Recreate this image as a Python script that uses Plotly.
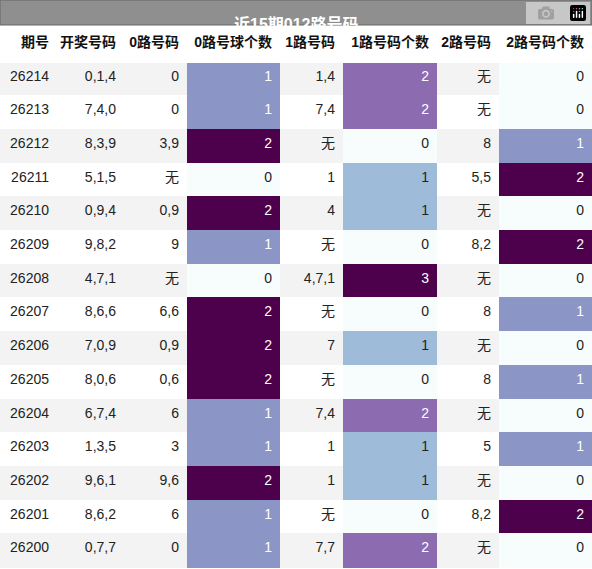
import plotly.graph_objects as go

title = "近15期012路号码"
headers = ["期号", "开奖号码", "0路号码", "0路号球个数", "1路号码", "1路号码个数", "2路号码", "2路号码个数"]
issues = ["26214","26213","26212","26211","26210","26209","26208","26207","26206","26205","26204","26203","26202","26201","26200"]
draws = ["0,1,4","7,4,0","8,3,9","5,1,5","0,9,4","9,8,2","4,7,1","8,6,6","7,0,9","8,0,6","6,7,4","1,3,5","9,6,1","8,6,2","0,7,7"]
r0 = ["0","0","3,9","无","0,9","9","无","6,6","0,9","0,6","6","3","9,6","6","0"]
c0 = [1,1,2,0,2,1,0,2,2,2,1,1,2,1,1]
r1 = ["1,4","7,4","无","1","4","无","4,7,1","无","7","无","7,4","1","1","无","7,7"]
c1 = [2,2,0,1,1,0,3,0,1,0,2,1,1,0,2]
r2 = ["无","无","8","5,5","无","8,2","无","8","无","8","无","5","无","8,2","无"]
c2 = [0,0,1,2,0,2,0,1,0,1,0,1,0,2,0]

def color(v, mx):
    if mx == 2:
        return ["#f7fcfd", "#8c96c6", "#4d004b"][v]
    return ["#f7fcfd", "#9ebcda", "#8c6bb1", "#4d004b"][v]

def tcolor(v, mx):
    if v == 0: return "#222"
    if mx == 3 and v == 1: return "#222"
    return "white"

n = len(issues)
base = ["#f3f3f3" if i % 2 == 0 else "white" for i in range(n)]
fills = [base, base, base, [color(v,2) for v in c0], base, [color(v,3) for v in c1], base, [color(v,2) for v in c2]]
fcols = [["#222"]*n]*3 + [[tcolor(v,2) for v in c0]] + [["#222"]*n] + [[tcolor(v,3) for v in c1]] + [["#222"]*n] + [[tcolor(v,2) for v in c2]]

fig = go.Figure(go.Table(
    columnwidth=[57, 67, 63, 93, 63, 94, 62, 93],
    domain=dict(x=[0, 1], y=[0, 1 - 26/569]),
    header=dict(values=["<b>%s</b>" % h for h in headers], align="right", height=36,
                fill_color="white", line_color="white",
                font=dict(family="Liberation Sans, Noto Sans CJK SC", size=14, color="#111")),
    cells=dict(values=[issues, draws, r0, [str(v) for v in c0], r1, [str(v) for v in c1], r2, [str(v) for v in c2]],
               align="right", height=33.7, fill_color=fills, line_color=fills,
               font=dict(family="Liberation Sans, Noto Sans CJK SC", size=14, color=fcols)),
))
fig.add_shape(type="rect", xref="paper", yref="paper", x0=0, x1=1, y0=1 - 25/569, y1=1,
              fillcolor="#8f8f8f", line=dict(color="#666", width=1))
fig.add_annotation(text="<b>%s</b>" % title, xref="paper", yref="paper", x=0.5, y=1 - 12.5/569,
                   showarrow=False, font=dict(family="Liberation Sans, Noto Sans CJK SC", size=16, color="white"))
fig.update_layout(width=592, height=569, margin=dict(l=0, r=0, t=0, b=0), paper_bgcolor="white")
fig.write_html("out.html", post_script="document.body.style.margin='0';document.body.style.overflow='hidden';")
